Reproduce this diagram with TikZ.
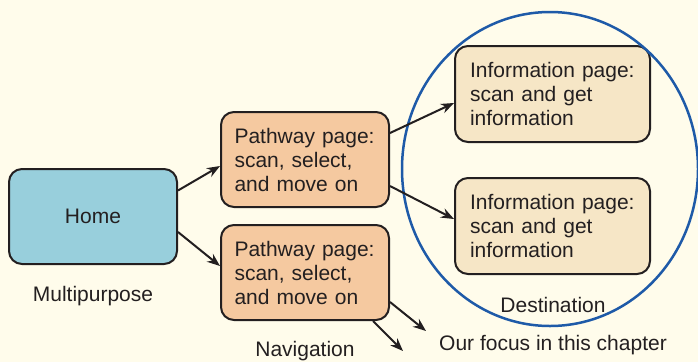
\documentclass[tikz,border=0pt]{standalone}
\usepackage{fontspec}
\setmainfont{Liberation Sans}
\usetikzlibrary{arrows.meta,shapes.geometric}
\definecolor{bgc}{HTML}{FFFCEB}
\definecolor{homec}{HTML}{98CFDC}
\definecolor{pathc}{HTML}{F5C9A0}
\definecolor{infoc}{HTML}{F6E6C6}
\definecolor{ringc}{HTML}{1E5AA8}
\definecolor{linec}{HTML}{231F20}
\begin{document}
\begin{tikzpicture}[x=1pt,y=-1pt,
  every node/.style={font=\fontsize{21}{24}\selectfont, text=linec},
  box/.style={draw=linec, line width=2pt, rounded corners=13pt, inner ysep=0pt},
  homebox/.style={box, fill=homec, minimum width=168pt, minimum height=95pt},
  pathbox/.style={box, fill=pathc, text width=141pt, inner xsep=13.5pt, minimum height=95pt, align=left},
  infobox/.style={box, fill=infoc, text width=165pt, inner xsep=15pt, minimum height=96pt, align=left},
  conn/.style={draw=linec, line width=2pt, -{Stealth[length=13pt,width=10pt]}},
  lbl/.style={inner sep=0pt}]
\fill[bgc] (0,0) rectangle (698,362);
\useasboundingbox (0,0) rectangle (698,362);
\node[homebox] (home) at (93,216.5) {Home};
\node[pathbox] (p1) at (305,159.5) {Pathway page:\\scan, select,\\and move on};
\node[pathbox] (p2) at (305,272.5) {Pathway page:\\scan, select,\\and move on};
\node[infobox] (i1) at (552.5,94) {Information page:\\scan and get\\information};
\node[infobox] (i2) at (552.5,226) {Information page:\\scan and get\\information};
\node[draw=ringc, line width=2.5pt, ellipse, minimum width=296pt, minimum height=314pt, inner sep=0pt] (ring) at (550,169) {};
\node[lbl] (mp) at (93,296) {Multipurpose};
\node[lbl] (nav) at (305,351) {Navigation};
\node[lbl] (dest) at (553,305) {Destination};
\node[lbl] (focus) at (553,345) {Our focus in this chapter};
\coordinate (c1) at (426,331);
\coordinate (c2) at (403,351);
\draw[conn] ([yshift=26pt]home.east) -- ([yshift=-6.5pt]p1.west);
\draw[conn] ([yshift=-15.5pt]home.east) -- ([yshift=6.5pt]p2.west);
\draw[conn] ([yshift=26.5pt]p1.east) -- ([yshift=-9pt]i1.west);
\draw[conn] ([yshift=-26.5pt]p1.east) -- ([yshift=7pt]i2.west);
\draw[conn] ([yshift=-29.5pt]p2.east) -- (c1);
\draw[conn] ([xshift=68pt]p2.south) -- (c2);
\end{tikzpicture}
\end{document}
